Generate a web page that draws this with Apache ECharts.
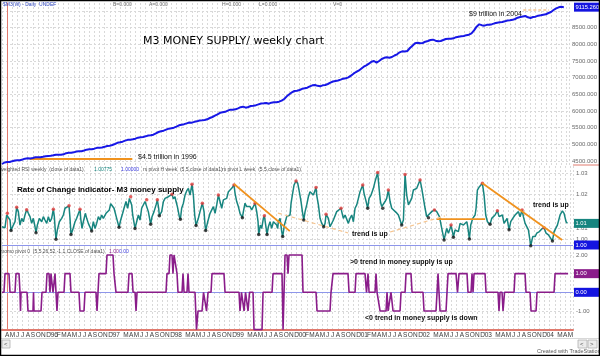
<!DOCTYPE html>
<html><head><meta charset="utf-8">
<script src="https://cdn.jsdelivr.net/npm/echarts@6/dist/echarts.min.js"></script>
<style>html,body{margin:0;padding:0;background:#fff;}#c{width:600px;height:356px;}</style>
</head><body><div id="c"></div>
<script>
// ---- x axis: month index, 0 = Apr 1995 ----
const monthLabels = ["A","M","J","J","A","S","O","N","D",
 "'96","F","M","A","M","J","J","A","S","O","N","D",
 "'97","","M","A","M","J","J","A","S","O","N","D",
 "'98","","M","A","M","J","J","A","S","O","N","D",
 "'99","","M","A","M","J","J","A","S","O","N","D",
 "'00","F","M","A","M","J","J","A","S","O","N","D",
 "'01","F","M","A","M","J","J","A","S","O","N","D",
 "'02","","M","A","M","J","J","A","S","O","N","D",
 "'03","","M","A","M","J","J","A","S","O","N","D",
 "'04","","M","A","M"];

// ---- top panel: M3 money supply (billions) [month, value] ----
const m3Series = [[-1,4410],[-0.5,4455],[0,4470],[0.5,4470],[1,4495],[1.5,4515],[2,4520],[2.5,4525],[3,4545],[3.5,4570],[4,4580],[4.5,4575],[5,4590],[5.5,4610],[6,4610],[6.5,4612],[7,4625],[7.5,4645],[8,4650],[8.5,4655],[9,4670],[9.5,4690],[10,4690],[10.5,4688],[11,4700],[11.5,4735],[12,4745],[12.5,4745],[13,4760],[13.5,4785],[14,4790],[14.5,4795],[15,4815],[15.5,4840],[16,4850],[16.5,4855],[17,4870],[17.5,4895],[18,4900],[18.5,4905],[19,4925],[19.5,4950],[20,4960],[20.5,4980],[21,5010],[21.5,5045],[22,5060],[22.5,5080],[23,5110],[23.5,5135],[24,5140],[24.5,5150],[25,5170],[25.5,5200],[26,5210],[26.5,5220],[27,5240],[27.5,5265],[28,5270],[28.5,5290],[29,5330],[29.5,5370],[30,5390],[30.5,5410],[31,5440],[31.5,5470],[32,5480],[32.5,5500],[33,5530],[33.5,5570],[34,5590],[34.5,5605],[35,5630],[35.5,5655],[36,5650],[36.5,5675],[37,5690],[37.5,5715],[38,5720],[38.5,5730],[39,5750],[39.5,5790],[40,5820],[40.5,5860],[41,5900],[41.5,5945],[42,5960],[42.5,5975],[43,6010],[43.5,6040],[44,6040],[44.5,6050],[45,6080],[45.5,6115],[46,6130],[46.5,6100],[47,6120],[47.5,6150],[48,6160],[48.5,6175],[49,6200],[49.5,6225],[50,6230],[50.5,6240],[51,6220],[51.5,6250],[52,6260],[52.5,6265],[53,6280],[53.5,6310],[54,6360],[54.5,6440],[55,6500],[55.5,6560],[56,6600],[56.5,6610],[57,6630],[57.5,6665],[58,6680],[58.5,6700],[59,6740],[59.5,6770],[60,6780],[60.5,6755],[61,6740],[61.5,6770],[62,6780],[62.5,6810],[63,6850],[63.5,6885],[64,6900],[64.5,6915],[65,6940],[65.5,6970],[66,6980],[66.5,7010],[67,7060],[67.5,7120],[68,7170],[68.5,7210],[69,7270],[69.5,7330],[70,7370],[70.5,7420],[71,7480],[71.5,7500],[72,7450],[72.5,7500],[73,7560],[73.5,7595],[74,7610],[74.5,7600],[75,7620],[75.5,7665],[76,7700],[76.5,7760],[77,7790],[77.5,7785],[78,7800],[78.5,7890],[79,7960],[79.5,8030],[80,8050],[80.5,8030],[81,8040],[81.5,8080],[82,8100],[82.5,8130],[83,8140],[83.5,8110],[84,8090],[84.5,8100],[85,8130],[85.5,8160],[86,8170],[86.5,8165],[87,8180],[87.5,8215],[88,8230],[88.5,8240],[89,8250],[89.5,8275],[90,8290],[90.5,8330],[91,8420],[91.5,8530],[92,8600],[92.5,8575],[93,8560],[93.5,8585],[94,8590],[94.5,8605],[95,8630],[95.5,8650],[96,8660],[96.5,8670],[97,8690],[97.5,8715],[98,8720],[98.5,8735],[99,8760],[99.5,8800],[100,8820],[100.5,8835],[101,8850],[101.5,8810],[102,8790],[102.5,8820],[103,8830],[103.5,8860],[104,8870],[104.5,8885],[105,8900],[105.5,8940],[106,8970],[106.5,9030],[107,9080],[107.5,9110],[108,9125],[108.5,9115]];
const m3Last = 9115.26;
const m3TickValues = [4500,5000,5500,6000,6500,7000,7500,8000,8500,9000];
const m3LabelValues = [4500,5000,5500,6000,6500,7000,7500,8000,8500];
const m3Marker1996 = [[4.4,4560],[24.4,4560]];
const m3Marker2004 = [[100.6,9030],[105.6,9030]];

// ---- middle panel: rate of change [month, value, pivot(1 high,-1 low)] ----
const rocSeries = [[-1.0,1.0076,0],[-0.87,1.0083,0],[-0.42,1.0072,0],[-0.10,1.0125,0],[0.03,1.0132,1],[0.55,1.0104,0],[0.74,1.0060,-1],[1.19,1.0083,0],[1.52,1.0097,0],[1.84,1.0157,1],[2.16,1.0139,0],[2.48,1.0083,0],[2.81,1.0111,0],[3.13,1.0097,0],[3.45,1.0125,0],[3.77,1.0147,1],[4.10,1.0132,0],[4.42,1.0118,0],[4.74,1.0090,0],[5.06,1.0111,0],[5.39,1.0076,0],[5.58,1.0051,-1],[5.84,1.0083,0],[6.23,1.0111,0],[6.68,1.0097,0],[7.0,1.0118,0],[7.32,1.0104,0],[7.65,1.0090,0],[7.97,1.0118,0],[8.29,1.0097,0],[8.61,1.0111,0],[8.94,1.0149,1],[9.13,1.0118,0],[9.32,1.0056,0],[9.45,1.0024,-1],[9.71,1.0063,0],[10.1,1.0097,0],[10.55,1.0111,0],[10.87,1.0125,0],[11.19,1.0153,0],[11.97,1.0163,1],[12.16,1.0111,0],[12.35,1.0044,-1],[12.68,1.0063,0],[13.13,1.0097,0],[13.45,1.0111,0],[14.1,1.0149,1],[14.23,1.0111,0],[14.48,1.0069,0],[14.74,1.0097,0],[15.13,1.0132,0],[15.39,1.0111,0],[15.71,1.0090,0],[16.03,1.0083,0],[16.35,1.0058,-1],[16.68,1.0097,0],[17.0,1.0069,0],[17.32,1.0090,0],[17.65,1.0118,0],[17.97,1.0104,0],[18.29,1.0125,0],[18.61,1.0111,0],[19.13,1.0132,0],[19.39,1.0139,0],[19.77,1.0146,0],[20.03,1.0172,0],[20.29,1.0169,0],[20.68,1.0153,0],[20.94,1.0146,0],[21.19,1.0111,0],[21.65,1.0074,-1],[21.97,1.0104,0],[22.35,1.0132,0],[22.61,1.0153,0],[23.0,1.0181,0],[23.32,1.0153,0],[23.65,1.0194,0],[23.9,1.0201,1],[24.1,1.0167,0],[24.29,1.0125,0],[24.74,1.0069,-1],[25.06,1.0097,0],[25.39,1.0125,0],[25.71,1.0104,0],[26.03,1.0153,0],[26.35,1.0160,0],[26.68,1.0181,0],[27.0,1.0188,1],[27.32,1.0139,0],[27.77,1.0086,-1],[28.03,1.0118,0],[28.42,1.0139,0],[28.81,1.0167,0],[29.06,1.0188,1],[29.32,1.0153,0],[29.45,1.0122,-1],[29.9,1.0139,0],[30.23,1.0181,0],[30.55,1.0194,0],[30.87,1.0188,0],[31.19,1.0201,0],[31.52,1.0208,0],[31.9,1.0211,1],[32.16,1.0192,0],[32.48,1.0201,0],[32.68,1.0181,0],[32.94,1.0160,0],[33.32,1.0118,0],[33.52,1.0107,-1],[33.77,1.0153,0],[34.1,1.0174,0],[34.42,1.0208,0],[34.74,1.0225,0],[35.06,1.0236,0],[35.39,1.0208,0],[35.77,1.0253,1],[36.03,1.0208,0],[36.29,1.0125,0],[36.55,1.0081,-1],
[37.0,1.0111,0],[37.32,1.0139,0],[37.77,1.0174,1],[38.1,1.0139,0],[38.29,1.0083,0],[38.42,1.0060,-1],[38.81,1.0097,0],[39.26,1.0132,0],[39.58,1.0139,0],[39.9,1.0160,0],[40.23,1.0132,0],[40.55,1.0167,0],[40.87,1.0208,1],[41.19,1.0181,0],[41.52,1.0153,0],[41.84,1.0188,0],[42.16,1.0183,0],[42.48,1.0194,0],[42.81,1.0222,0],[43.13,1.0229,0],[43.45,1.0236,0],[43.9,1.0250,1],[44.1,1.0215,0],[44.42,1.0181,0],[44.74,1.0160,0],[45.06,1.0132,0],[45.52,1.0114,-1],[45.71,1.0139,0],[46.03,1.0174,0],[46.35,1.0160,0],[46.68,1.0153,0],[47.0,1.0160,0],[47.32,1.0146,0],[47.65,1.0139,0],[47.97,1.0174,1],[48.29,1.0139,0],[48.55,1.0097,0],[48.68,1.0044,-1],[49.0,1.0083,0],[49.26,1.0069,0],[49.58,1.0111,0],[49.77,1.0122,1],[50.03,1.0083,0],[50.29,1.0044,-1],[50.55,1.0076,0],[50.87,1.0097,0],[51.19,1.0069,0],[51.52,1.0097,0],[51.84,1.0104,0],[52.16,1.0083,0],[52.35,1.0069,0],[52.48,1.0097,0],[52.81,1.0111,0],[53.13,1.0056,0],[53.32,1.0035,-1],[53.65,1.0083,0],[54.1,1.0118,0],[54.42,1.0118,0],[54.74,1.0125,0],[54.94,1.0174,0],[55.19,1.0208,0],[55.52,1.0250,0],[55.9,1.0267,1],[56.23,1.0257,0],[56.48,1.0229,0],[56.87,1.0181,0],[57.13,1.0139,0],[57.39,1.0104,-1],[57.65,1.0139,0],[57.97,1.0167,0],[58.29,1.0201,0],[58.61,1.0222,0],[58.94,1.0229,0],[59.26,1.0208,0],[59.77,1.0239,1],[59.9,1.0208,0],[60.23,1.0167,0],[60.55,1.0111,0],[60.87,1.0090,0],[61.26,1.0076,-1],[61.52,1.0090,0],[61.71,1.0128,1],[62.16,1.0111,0],[62.48,1.0076,0],[62.81,1.0083,0],[63.13,1.0104,0],[63.45,1.0097,0],[63.77,1.0139,0],[64.1,1.0132,0],[64.61,1.0153,1],[64.74,1.0139,0],[65.06,1.0111,0],[65.39,1.0125,0],[65.71,1.0118,0],[66.03,1.0090,0],[66.35,1.0111,0],[66.68,1.0125,0],[67.0,1.0097,0],[67.32,1.0153,0],[67.65,1.0167,0],[67.97,1.0194,0],[68.29,1.0222,0],[68.81,1.0250,1],[69.06,1.0215,0],[69.39,1.0188,0],[69.77,1.0153,-1],[70.03,1.0194,0],[70.42,1.0208,0],[70.87,1.0236,0],[71.19,1.0264,0],[71.7,1.0302,1],[71.97,1.0236,0],[72.23,1.0181,0],[72.48,1.0160,0],[72.68,1.0153,-1],[73.13,1.0181,0],[73.45,1.0194,0],[73.77,1.0229,1],[74.1,1.0181,0],[74.42,1.0153,0],
[74.74,1.0146,0],[75.26,1.0136,0],[75.71,1.0125,0],[76.35,1.0083,-1],[76.68,1.0104,0],[77.0,1.0294,1],[77.32,1.0208,0],[77.65,1.0167,0],[77.97,1.0181,0],[78.29,1.0194,0],[78.61,1.0229,0],[79.26,1.0236,0],[79.9,1.0271,1],[80.23,1.0236,0],[80.55,1.0194,0],[80.87,1.0153,0],[81.19,1.0118,0],[81.52,1.0114,-1],[82.16,1.0139,0],[82.68,1.0146,1],[83.13,1.0139,0],[83.65,1.0118,0],[84.1,1.0069,0],[84.55,1.0021,-1],[85.06,1.0069,0],[85.39,1.0049,0],[85.71,1.0069,0],[85.9,1.0083,1],[86.23,1.0049,0],[86.35,1.0032,-1],[86.68,1.0063,0],[87.0,1.0069,0],[87.32,1.0056,0],[87.65,1.0090,0],[87.97,1.0097,0],[88.29,1.0083,0],[88.61,1.0090,0],[88.94,1.0097,0],[89.13,1.0076,0],[89.45,1.0025,-1],[89.71,1.0083,0],[90.1,1.0111,0],[90.55,1.0125,0],[90.74,1.0153,0],[91.0,1.0229,0],[91.39,1.0243,0],[91.65,1.0250,0],[91.97,1.0257,1],[92.29,1.0208,0],[92.61,1.0125,0],[92.94,1.0097,0],[93.45,1.0086,-1],[93.77,1.0111,0],[94.1,1.0118,0],[94.42,1.0125,0],[94.87,1.0143,1],[95.19,1.0118,0],[95.52,1.0111,0],[95.84,1.0125,0],[96.16,1.0090,0],[96.48,1.0083,0],[96.74,1.0111,0],[97.13,1.0063,-1],[97.45,1.0097,0],[97.84,1.0111,0],[98.29,1.0125,0],[98.61,1.0132,0],[98.94,1.0139,0],[99.26,1.0118,0],[99.65,1.0146,1],[99.9,1.0118,0],[100.23,1.0090,0],[100.55,1.0083,0],[100.87,1.0063,0],[101.32,0.9997,-1],[101.71,1.0035,0],[102.16,1.0035,0],[102.48,1.0049,0],[103.0,1.0056,0],[103.45,1.0067,0],[103.9,1.0072,1],[104.29,1.0049,0],[104.74,1.0042,0],[105.06,1.0035,0],[105.52,1.0017,-1],[105.84,1.0056,0],[106.16,1.0069,0],[106.48,1.0083,0],[107.0,1.0125,0],[107.45,1.0142,0],[107.77,1.0132,0],[108.16,1.0097,0],[108.42,1.0090,0]];
const rocLast = 1.0090;
const rocRef = 1.0;
const rocLabelValues = [1.0025,1.0071,1.0213,1.0300];
const trendSolid = [[[43.9,1.0254],[54.7,1.0058]],[[83.1,1.0108],[92.5,1.0108]],[[91.9,1.0258],[107.4,1.0021]]];
const trendDashed = [[[52.4,1.0133],[66.0,1.0050]],[[74.1,1.0054],[84.7,1.0121]]];

// ---- bottom panel: momentum pivot [month, value] ----
const momoSeries = [[-1.0,0],[-0.61,0],[-0.42,1],[0.35,1],[0.55,0],[1.52,0],[1.71,1],[2.29,1],[2.48,0],[2.58,-1],[2.68,0],[3.84,0],[4.03,-1],[5.0,-1],[5.1,0],[5.19,-1],[6.55,-1],[6.74,0],[7.52,0],[7.71,1],[8.1,1],[8.29,0],[8.48,1],[8.68,1],[8.87,0],[9.26,1],[9.45,0],[9.64,-1],[9.84,0],[11.0,0],[11.19,1],[12.16,1],[12.35,0],[13.9,0],[14.09,-1],[14.87,-1],[15.06,0],[17.19,0],[17.39,-1],[17.58,0],[17.77,1],[19.13,1],[19.32,2],[20.48,2],[20.68,1],[20.87,1],[21.06,0],[23.38,0],[23.58,1],[24.16,1],[24.36,0],[24.75,0],[24.94,-1],[25.13,0],[30.74,0],[30.93,1],[31.32,1],[31.51,2],[31.9,2],[32.09,1],[32.29,2],[32.48,2],[32.87,1],[33.06,0],[33.84,0],[34.03,1],[34.23,0],[34.8,0],[35.0,1],[35.19,0],[36.35,0],[36.64,-2],[36.93,-1],[37.71,-1],[38.0,0],[38.29,0],[38.58,-1],[38.87,0],[39.45,0],[39.64,1],[41.96,1],[42.16,0],[44.87,0],[45.06,-1],[45.35,0],[45.64,0],[45.84,-1],[46.13,0],[46.42,0],[46.61,-1],[46.9,0],[47.58,0],[47.77,-2],[49.32,-2],[49.52,0],[51.26,0],[51.45,1],[53.19,1],[53.39,-2],[53.58,0],[53.77,2],[54.16,2],[54.35,1],[54.54,2],[57.06,2],[57.25,0],[59.77,0],[59.96,-1],[62.48,-1],[62.67,0],[62.87,0],[63.06,1],[65.96,1],[66.16,0],[67.32,0],[67.51,1],[69.25,1],[69.54,0],[69.83,1],[70.03,0],[71.19,0],[71.38,1],[71.58,0],[71.96,0],[72.16,-1],[73.32,-1],[73.51,0],[73.71,-1],[74.09,-1],[74.28,0],[74.67,-1],[76.03,-1],[76.22,0],[77.0,0],[77.19,1],[78.15,1],[78.35,0],[80.47,0],[80.67,-1],[82.99,-1],[83.19,0],[83.38,1],[83.57,0],[83.77,-1],[84.93,-1],[85.12,0],[85.32,1],[86.86,1],[87.15,0],[87.44,1],[88.99,1],[89.18,0],[89.77,0],[89.96,1],[90.15,0],[90.35,1],[92.48,1],[92.67,0],[94.99,0],[95.18,-1],[95.38,0],[95.77,0],[95.96,-1],[96.25,0],[98.09,0],[98.28,1],[100.22,1],[100.41,0],[101.19,0],[101.38,-1],[102.35,-1],[102.54,0],[105.83,0],[106.03,1],[108.55,1]];
const momoLast = 1.0;
const momoRef = 0.0;
const momoTickValues = [-1,0,1,2];

// ---------------------------------------------------------------
const FONT = 'Liberation Sans';
const GRIDC = '#d9d9d9';
const AXISRED = '#e07a6e';
const BLUE = '#1717e6', TEAL = '#17857f', PURPLE = '#8a1d8a', ORANGE = '#f0921e', LORANGE = '#f6c590', REFBLUE = '#8e96ea';

const chart = echarts.init(document.getElementById('c'));

function xAxisCfg(gi, main) {
  return {
    type: 'value', gridIndex: gi, min: -1, max: 109.5, interval: 1,
    axisLine: { show: main, onZero: false, lineStyle: { color: AXISRED, width: 2 } },
    axisTick: { show: false },
    axisLabel: {
      show: main, fontSize: 6.5, fontFamily: FONT, color: '#3a3a3a', margin: 2,
      showMinLabel: false, showMaxLabel: false,
      formatter: v => (Number.isInteger(v) && v >= 0 && v < monthLabels.length) ? monthLabels[v] : ''
    },
    splitLine: { show: true, lineStyle: { color: GRIDC, width: 1, type: [2, 2] } }
  };
}
function yAxisCfg(gi, min, max, ticks, labels, fmt) {
  return {
    type: 'value', gridIndex: gi, position: 'right', min: min, max: max,
    axisLine: { show: true, lineStyle: { color: AXISRED, width: 1 } },
    axisTick: { show: false, customValues: ticks },
    axisLabel: { customValues: labels, formatter: fmt, fontSize: 6, fontFamily: FONT, color: '#6a6a6a', margin: 3 },
    splitLine: { show: true, lineStyle: { color: GRIDC, width: 1, type: [2, 2] } }
  };
}

const series = [];
series.push({ type: 'line', xAxisIndex: 0, yAxisIndex: 0, data: m3Series, showSymbol: false, lineStyle: { color: BLUE, width: 2 }, z: 5 });
series.push({ type: 'line', xAxisIndex: 0, yAxisIndex: 0, data: m3Marker1996, showSymbol: false, lineStyle: { color: ORANGE, width: 2 }, z: 4 });
series.push({ type: 'line', xAxisIndex: 0, yAxisIndex: 0, data: m3Marker2004, showSymbol: false, lineStyle: { color: LORANGE, width: 1.5, type: [3, 2] }, z: 4 });

series.push({ type: 'line', xAxisIndex: 1, yAxisIndex: 1, data: rocSeries.map(p => [p[0], p[1]]), showSymbol: false,
  lineStyle: { color: TEAL, width: 1.5 }, z: 5,
  markLine: { silent: true, symbol: 'none', label: { show: false }, lineStyle: { color: REFBLUE, width: 1, type: 'solid' }, data: [{ yAxis: rocRef }] } });
series.push({ type: 'scatter', xAxisIndex: 1, yAxisIndex: 1, data: rocSeries.filter(p => p[2] === 1).map(p => [p[0], p[1]]), symbolSize: 3.5, itemStyle: { color: '#e03a3a' }, z: 6 });
series.push({ type: 'scatter', xAxisIndex: 1, yAxisIndex: 1, data: rocSeries.filter(p => p[2] === -1).map(p => [p[0], p[1]]), symbolSize: 3.5, itemStyle: { color: '#1a1a1a' }, z: 6 });
trendSolid.forEach(seg => series.push({ type: 'line', xAxisIndex: 1, yAxisIndex: 1, data: seg, showSymbol: false, lineStyle: { color: ORANGE, width: 1.8 }, z: 7 }));
trendDashed.forEach(seg => series.push({ type: 'line', xAxisIndex: 1, yAxisIndex: 1, data: seg, showSymbol: false, lineStyle: { color: LORANGE, width: 1.2, type: [4, 3] }, z: 7 }));

series.push({ type: 'line', xAxisIndex: 2, yAxisIndex: 2, data: momoSeries, showSymbol: false, lineStyle: { color: PURPLE, width: 1.6 }, z: 5,
  markLine: { silent: true, symbol: 'none', label: { show: false }, lineStyle: { color: REFBLUE, width: 1, type: 'solid' }, data: [{ yAxis: momoRef }] } });

chart.setOption({
  animation: false,
  backgroundColor: '#ffffff',
  grid: [
    { left: 2, right: 27, top: 3, height: 162 },
    { left: 2, right: 27, top: 166, height: 82 },
    { left: 2, right: 27, top: 248, height: 82 }
  ],
  xAxis: [xAxisCfg(0, false), xAxisCfg(1, false), xAxisCfg(2, true)],
  yAxis: [
    yAxisCfg(0, 4380, 9240, m3TickValues, m3LabelValues, v => v.toFixed(3)),
    yAxisCfg(1, 0.99875, 1.0329, rocLabelValues, rocLabelValues, v => v.toFixed(2)),
    yAxisCfg(2, -2.02, 2.375, momoTickValues, [-1, 0, 1, 2], v => v.toFixed(2))
  ],
  series: series
});

// ---- text annotations and value boxes ----
function txt(x, y, text, size, color, weight, family) {
  return { type: 'text', x: x, y: y, z: 100, style: { text: text, fill: color || '#000', fontSize: size, fontFamily: family || FONT, fontWeight: weight || 'normal', verticalAlign: 'middle', align: 'left' } };
}
function box(yAxisIndex, value, text, color) {
  const y = chart.convertToPixel({ yAxisIndex: yAxisIndex }, value);
  return [
    { type: 'rect', z: 101, shape: { x: 574, y: y - 4.5, width: 25, height: 9 }, style: { fill: color } },
    { type: 'text', z: 102, x: 575.5, y: y, style: { text: text, fill: '#ffffff', fontSize: 5.8, fontFamily: FONT, verticalAlign: 'middle', align: 'left' } }
  ];
}
const g = [];
const HF = 5;
g.push(txt(3, 5, '$M3(W) - Daily  UNDEF', HF, '#3048c0'));
g.push(txt(113, 5, 'B=0.000', HF, '#707070'));
g.push(txt(149, 5, 'A=0.000', HF, '#707070'));
g.push(txt(222, 5, 'H=0.000', HF, '#707070'));
g.push(txt(259, 5, 'L=0.000', HF, '#707070'));
g.push(txt(333, 5, 'V=0', HF, '#707070'));
g.push(txt(143, 41, 'M3 MONEY SUPPLY/ weekly chart', 11, '#000', 'normal', 'DejaVu Sans'));
g.push(txt(469, 14.5, '$9 trillion in 2004', 7, '#111'));
g.push(txt(138, 157, '$4.5 trillion in 1996', 7, '#111'));

g.push(txt(0, 170, 'weighted RSI weekly  (close of data1)', HF, '#505050'));
g.push(txt(94, 170, '1.00775', HF, TEAL));
g.push(txt(121, 170, '1.00000', HF, '#3a3ae0'));
g.push(txt(143, 170, 'rs pivot H week  (5,5,close of data1)', HF, '#505050'));
g.push(txt(222, 170, 'rs pivot L week  (5,5,close of data1)', HF, '#505050'));
g.push(txt(17, 190, 'Rate of Change Indicator- M3 money supply', 8, '#000', 'bold'));
g.push(txt(352, 234, 'trend is up', 7, '#111', 'bold'));
g.push(txt(533, 205, 'trend is up', 7, '#111', 'bold'));

g.push(txt(0, 252, 'momo pivot 0  (5,5,26,52,-1,1,CLOSE of data1)', HF, '#505050'));
g.push(txt(109, 252, '1.00', HF, PURPLE));
g.push(txt(119, 252, '0.00', HF, '#3a3ae0'));
g.push(txt(350, 262, '>0 trend in money supply is up', 7, '#111', 'bold'));
g.push(txt(365, 318, '<0 trend in money supply is down', 7, '#111', 'bold'));

box(0, m3Last, m3Last.toFixed(3), '#1414e0').forEach(e => g.push(e));
box(1, rocLast, rocLast.toFixed(2), TEAL).forEach(e => g.push(e));
box(1, rocRef, rocRef.toFixed(2), '#1414e0').forEach(e => g.push(e));
box(2, momoLast, momoLast.toFixed(2), PURPLE).forEach(e => g.push(e));
box(2, momoRef, momoRef.toFixed(2), '#1414e0').forEach(e => g.push(e));

// panel separator in the axis column
const ySep = chart.convertToPixel({ yAxisIndex: 0 }, 4380);
g.push({ type: 'line', z: 50, shape: { x1: 573, y1: ySep, x2: 600, y2: ySep }, style: { stroke: AXISRED, lineWidth: 1 } });
// scroll bar + frame
g.push({ type: 'line', z: 50, shape: { x1: 1, y1: 338.5, x2: 599, y2: 338.5 }, style: { stroke: '#d8d8d8', lineWidth: 1 } });
g.push({ type: 'rect', z: 50, shape: { x: 2, y: 340, width: 8, height: 8 }, style: { fill: '#ececec', stroke: '#b0b0b0', lineWidth: 0.8 } });
g.push(txt(4, 344, '<', 6, '#555'));
g.push({ type: 'rect', z: 50, shape: { x: 578, y: 340, width: 9, height: 8 }, style: { fill: '#ececec', stroke: '#b0b0b0', lineWidth: 0.8 } });
g.push({ type: 'rect', z: 50, shape: { x: 588, y: 340, width: 9, height: 8 }, style: { fill: '#ececec', stroke: '#b0b0b0', lineWidth: 0.8 } });
g.push(txt(580, 344, '<', 6, '#555'));
g.push(txt(590, 344, '>', 6, '#555'));
g.push(txt(537, 351.5, 'Created with TradeStation', 5.5, '#555'));
g.push({ type: 'rect', z: 120, shape: { x: 0.5, y: 0.5, width: 599, height: 355 }, style: { fill: 'none', stroke: '#000', lineWidth: 1.5 } });

chart.setOption({ graphic: g });
</script>
</body></html>
